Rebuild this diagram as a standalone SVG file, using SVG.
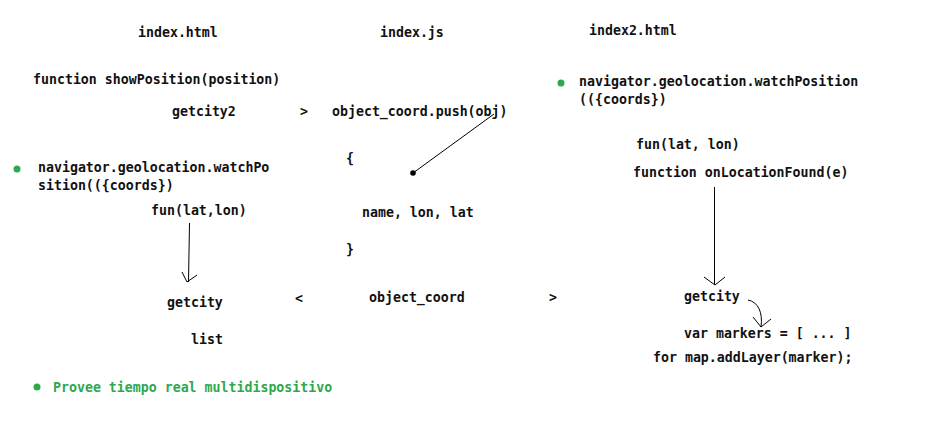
<svg xmlns="http://www.w3.org/2000/svg" width="933" height="429" viewBox="0 0 933 429">
<style>
text{font-family:"DejaVu Sans Mono","Liberation Mono",monospace;font-size:13.25px;font-weight:bold;fill:#111}
.g{fill:#2ea84e}
.ln{stroke:#000;stroke-width:1;fill:none}
</style>
<rect width="933" height="429" fill="#fff"/>
<g id="index-html">
<text x="138" y="37">index.html</text>
<text x="33" y="84">function showPosition(position)</text>
<text x="172" y="116">getcity2</text>
<circle cx="17" cy="169" r="3.5" class="g"/>
<text x="38" y="172">navigator.geolocation.watchPo</text>
<text x="38" y="190">sition(({coords})</text>
<text x="151" y="215">fun(lat,lon)</text>
<text x="167" y="307">getcity</text>
<text x="191" y="344">list</text>
</g>
<g id="index-js">
<text x="380" y="37">index.js</text>
<text x="300" y="116">&gt;</text>
<text x="332" y="116">object_coord.push(obj)</text>
<text x="346" y="163">{</text>
<text x="362" y="217">name, lon, lat</text>
<text x="346" y="254">}</text>
<text x="295" y="303">&lt;</text>
<text x="369" y="302">object_coord</text>
<text x="549" y="302">&gt;</text>
</g>
<g id="index2-html">
<text x="589" y="35">index2.html</text>
<circle cx="561" cy="83" r="3.5" class="g"/>
<text x="579" y="86">navigator.geolocation.watchPosition</text>
<text x="579" y="104">(({coords})</text>
<text x="636" y="149">fun(lat, lon)</text>
<text x="633" y="177">function onLocationFound(e)</text>
<text x="684" y="301">getcity</text>
<text x="684" y="338">var markers = [ ... ]</text>
<text x="653" y="362">for map.addLayer(marker);</text>
</g>
<g id="note">
<circle cx="37" cy="387" r="3.5" class="g"/>
<text x="53" y="392" class="g">Provee tiempo real multidispositivo</text>
</g>
<g id="connectors">
<line x1="413" y1="173" x2="494" y2="114" class="ln"/>
<circle cx="413" cy="173" r="2.8" fill="#000"/>
<line x1="189.5" y1="223" x2="188.5" y2="282" class="ln"/>
<polyline points="182,272 187,282 197,275" class="ln"/>
<line x1="714.5" y1="187" x2="714.5" y2="284" class="ln"/>
<polyline points="704,277 715,285 725,277" class="ln"/>
<path d="M748,300 C758,302 763,312 761,327" class="ln"/>
<polyline points="753,317 761,327 771,319" class="ln"/>
</g>
</svg>
